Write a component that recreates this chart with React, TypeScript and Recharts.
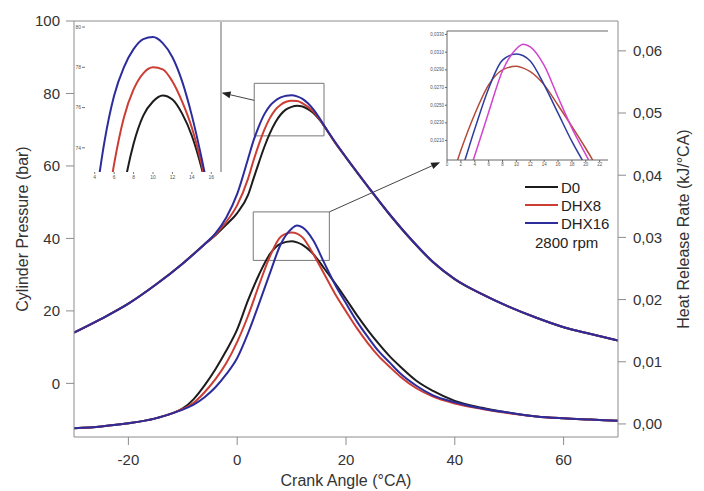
import React from 'react';
import { LineChart, Line, XAxis, YAxis, ReferenceLine, ReferenceArea, Legend } from 'recharts';

// crank angle grid for the cylinder pressure curves (°CA)
const pAngles = [-30, -25, -20, -15, -10, -6, -4, -2, 0, 2, 3, 4, 5, 6, 7, 8, 9, 10, 11, 12, 13, 14, 15, 16, 18, 20, 24, 28, 32, 36, 40, 45, 50, 55, 60, 65, 70];
const pD0 = [14.0, 17.8, 22.0, 27.2, 33.1, 38.4, 40.9, 43.8, 47.0, 52.0, 56.5, 61.0, 65.3, 69.0, 72.0, 74.2, 75.6, 76.3, 76.6, 76.4, 75.7, 74.6, 73.0, 71.0, 66.4, 62.3, 54.3, 46.6, 39.6, 33.4, 28.7, 24.6, 21.1, 18.1, 15.5, 13.6, 11.8];
const pDHX8 = [14.0, 17.8, 22.0, 27.2, 33.1, 38.4, 41.1, 44.6, 49.2, 56.5, 61.5, 66.0, 70.0, 73.2, 75.5, 76.9, 77.7, 78.0, 77.9, 77.3, 76.3, 75.0, 73.2, 71.0, 66.5, 62.4, 54.4, 46.7, 39.7, 33.5, 28.8, 24.6, 21.1, 18.1, 15.5, 13.6, 11.8];
const pDHX16 = [14.0, 17.8, 22.0, 27.2, 33.1, 38.4, 41.4, 45.8, 52.3, 62.0, 67.0, 71.0, 74.3, 76.6, 78.0, 78.9, 79.4, 79.5, 79.2, 78.5, 77.3, 75.6, 73.5, 71.1, 66.6, 62.4, 54.4, 46.7, 39.7, 33.5, 28.8, 24.6, 21.1, 18.1, 15.5, 13.6, 11.8];

// crank angle grid for the heat release rate curves (°CA)
const hAngles = [-30, -25, -20, -15, -12, -10, -8, -6, -4, -2, 0, 2, 4, 6, 8, 10, 11, 12, 14, 16, 18, 20, 22, 24, 26, 28, 30, 33, 36, 40, 45, 50, 55, 60, 65, 70];
const hD0 = [-0.0007, -0.0004, 0.0001, 0.0009, 0.0017, 0.0025, 0.0040, 0.0062, 0.0088, 0.0118, 0.0152, 0.0199, 0.0240, 0.0273, 0.0290, 0.0294, 0.0292, 0.0288, 0.0273, 0.0250, 0.0226, 0.0201, 0.0175, 0.0151, 0.0129, 0.0109, 0.0092, 0.0069, 0.0053, 0.0037, 0.0026, 0.0018, 0.0012, 0.0009, 0.0007, 0.0005];
const hDHX8 = [-0.0007, -0.0004, 0.0001, 0.0009, 0.0017, 0.0024, 0.0034, 0.0051, 0.0072, 0.0098, 0.0132, 0.0174, 0.0223, 0.0269, 0.0301, 0.0308, 0.0306, 0.0300, 0.0273, 0.0241, 0.0209, 0.0181, 0.0154, 0.0130, 0.0109, 0.0092, 0.0076, 0.0057, 0.0044, 0.0033, 0.0024, 0.0017, 0.0012, 0.0009, 0.0007, 0.0005];
const hDHX16 = [-0.0007, -0.0004, 0.0001, 0.0009, 0.0017, 0.0023, 0.0031, 0.0043, 0.0059, 0.0080, 0.0106, 0.0146, 0.0193, 0.0242, 0.0289, 0.0314, 0.0319, 0.0316, 0.0295, 0.0259, 0.0224, 0.0194, 0.0165, 0.0140, 0.0117, 0.0099, 0.0081, 0.0061, 0.0046, 0.0035, 0.0025, 0.0018, 0.0012, 0.0009, 0.0007, 0.0005];

const fuels = ['D0', 'DHX8', 'DHX16'];
const speedLabel = '2800 rpm';
const xTicks = [-20, 0, 20, 40, 60];
const pTicks = [0, 20, 40, 60, 80, 100];
const hTicks = [0, 0.01, 0.02, 0.03, 0.04, 0.05, 0.06];
const inset1XTicks = [4, 6, 8, 10, 12, 14, 16];
const inset1YTicks = [74, 76, 78, 80];
const inset2XTicks = [0, 2, 4, 6, 8, 10, 12, 14, 16, 18, 20, 22];
const inset2YTicks = [0.020, 0.021, 0.022, 0.023, 0.024, 0.025, 0.026, 0.027, 0.028, 0.029, 0.030, 0.031, 0.032, 0.033];

const colors = ['#1c1c1c', '#cc3d33', '#2c2c9c'];
const insetHrrColors = ['#b34a38', '#2d3c9e', '#d244cf'];
const axisColor = '#8c8c8c';
const textColor = '#333';
const font = '"Liberation Sans", Arial, sans-serif';

const rows = (angles: number[], vals: number[]) => angles.map((a, i) => ({ a, v: vals[i] }));
const pSeries = [pD0, pDHX8, pDHX16].map((v) => rows(pAngles, v));
const hSeries = [hD0, hDHX8, hDHX16].map((v) => rows(hAngles, v));
const comma = (d: number) => (v: number) => v.toFixed(d).replace('.', ',');

const Arrow = (props: any) => {
  const { x1, y1, x2, y2 } = props;
  const ang = Math.atan2(y2 - y1, x2 - x1);
  const len = 9;
  const w = 3.5;
  const bx = x2 - len * Math.cos(ang);
  const by = y2 - len * Math.sin(ang);
  const pts = `${x2},${y2} ${bx - w * Math.sin(ang)},${by + w * Math.cos(ang)} ${bx + w * Math.sin(ang)},${by - w * Math.cos(ang)}`;
  return (
    <g>
      <line x1={x1} y1={y1} x2={bx} y2={by} stroke="#444" strokeWidth={1} />
      <polygon points={pts} fill="#222" />
    </g>
  );
};

const LegendBox = () => (
  <div style={{ fontFamily: font, fontSize: 15, color: '#222' }}>
    {fuels.map((f, i) => (
      <div key={f} style={{ display: 'flex', alignItems: 'center', height: 18 }}>
        <span style={{ display: 'inline-block', width: 33, height: 2, background: colors[i], marginRight: 3 }} />
        {f}
      </div>
    ))}
    <div style={{ marginTop: 2, height: 18, lineHeight: '18px', paddingLeft: 10 }}>{speedLabel}</div>
  </div>
);

const App: React.FC = () => {
  const tick = { fill: textColor, fontSize: 15 };
  return (
    <div style={{ position: 'fixed', left: 0, top: 0, width: 704, height: 491, fontFamily: font, background: '#fff' }}>
      <div style={{ position: 'absolute', left: 0, top: 0 }}>
        <LineChart width={704} height={491} margin={{ top: 21, right: 26, left: 24, bottom: 24 }}>
          <XAxis
            type="number"
            dataKey="a"
            domain={[-30, 70]}
            ticks={xTicks}
            allowDataOverflow
            height={30}
            stroke={axisColor}
            tickSize={8}
            tickMargin={9}
            tick={tick}
            label={{ value: 'Crank Angle (°CA)', position: 'bottom', offset: 8, fill: textColor, fontSize: 16 }}
          />
          <YAxis
            yAxisId="p"
            orientation="left"
            domain={[-14.8, 100]}
            ticks={pTicks}
            allowDataOverflow
            width={50}
            stroke={axisColor}
            tickSize={8}
            tickMargin={6}
            tick={tick}
            label={{ value: 'Cylinder Pressure (bar)', angle: -90, position: 'insideLeft', offset: -2, fill: textColor, fontSize: 16, style: { textAnchor: 'middle' } }}
          />
          <YAxis
            yAxisId="h"
            orientation="right"
            domain={[-0.0021, 0.0648]}
            ticks={hTicks}
            allowDataOverflow
            width={60}
            stroke={axisColor}
            tickSize={8}
            tickMargin={7}
            tick={tick}
            tickFormatter={comma(2)}
            label={{ value: 'Heat Release Rate (kJ/°CA)', angle: -90, position: 'insideRight', offset: -5, fill: textColor, fontSize: 16, style: { textAnchor: 'middle' } }}
          />
          <ReferenceLine yAxisId="p" y={100} stroke={axisColor} />
          <ReferenceArea yAxisId="p" x1={3.13} x2={15.96} y1={68.3} y2={82.8} fill="none" stroke="#777" strokeWidth={1} />
          <ReferenceArea yAxisId="h" x1={2.95} x2={16.94} y1={0.0263} y2={0.0341} fill="none" stroke="#777" strokeWidth={1} />
          <ReferenceLine yAxisId="p" segment={[{ x: 3.13, y: 78.1 }, { x: -2.87, y: 80.2 }]} shape={Arrow} />
          <ReferenceLine yAxisId="h" segment={[{ x: 16.94, y: 0.0341 }, { x: 37.3, y: 0.0421 }]} shape={Arrow} />
          {pSeries.map((d, i) => (
            <Line key={'p' + fuels[i]} yAxisId="p" data={d} dataKey="v" name={fuels[i]} type="monotone" stroke={colors[i]} strokeWidth={2} dot={false} isAnimationActive={false} />
          ))}
          {hSeries.map((d, i) => (
            <Line key={'h' + fuels[i]} yAxisId="h" data={d} dataKey="v" name={fuels[i] + ' HRR'} legendType="none" type="monotone" stroke={colors[i]} strokeWidth={2} dot={false} isAnimationActive={false} />
          ))}
          <Legend layout="vertical" align="center" verticalAlign="middle" content={LegendBox} wrapperStyle={{ left: 525, top: 178, width: 110 }} />
        </LineChart>
      </div>

      {/* zoom of the pressure peak */}
      <div style={{ position: 'absolute', left: 60, top: 15 }}>
        <LineChart width={170} height={175} margin={{ top: 7, right: 9, left: 0, bottom: 8 }}>
          <XAxis type="number" dataKey="a" domain={[3, 17]} ticks={inset1XTicks} allowDataOverflow height={10} axisLine={false} tickLine={{ stroke: '#777' }} tickSize={2} tickMargin={1} tick={{ fill: '#555', fontSize: 5 }} />
          <YAxis domain={[72.8, 80.25]} ticks={inset1YTicks} allowDataOverflow width={25} axisLine={false} tickLine={{ stroke: '#777' }} tickSize={3} tickMargin={1} tick={{ fill: '#555', fontSize: 5 }} />
          <ReferenceLine x={17} stroke="#666" />
          {pSeries.map((d, i) => (
            <Line key={'ip' + fuels[i]} data={d} dataKey="v" type="monotone" stroke={colors[i]} strokeWidth={2} dot={false} isAnimationActive={false} />
          ))}
        </LineChart>
      </div>

      {/* zoom of the heat release peak */}
      <div style={{ position: 'absolute', left: 415, top: 25 }}>
        <LineChart width={200} height={147} margin={{ top: 6, right: 7, left: 0, bottom: 2 }}>
          <XAxis type="number" dataKey="a" domain={[0, 23.2]} ticks={inset2XTicks} allowDataOverflow height={10} stroke="#666" tickSize={2} tickMargin={1} tick={{ fill: '#555', fontSize: 4.5 }} />
          <YAxis domain={[0.0188, 0.0334]} ticks={inset2YTicks} allowDataOverflow width={32} stroke="#666" tickSize={2} tickMargin={1} tick={{ fill: '#555', fontSize: 4.5 }} tickFormatter={comma(4)} />
          <ReferenceLine y={0.0334} stroke="#666" />
          {hSeries.map((d, i) => (
            <Line key={'ih' + fuels[i]} data={d} dataKey="v" type="monotone" stroke={insetHrrColors[i]} strokeWidth={1.5} dot={false} isAnimationActive={false} />
          ))}
        </LineChart>
      </div>
    </div>
  );
};

export default App;
